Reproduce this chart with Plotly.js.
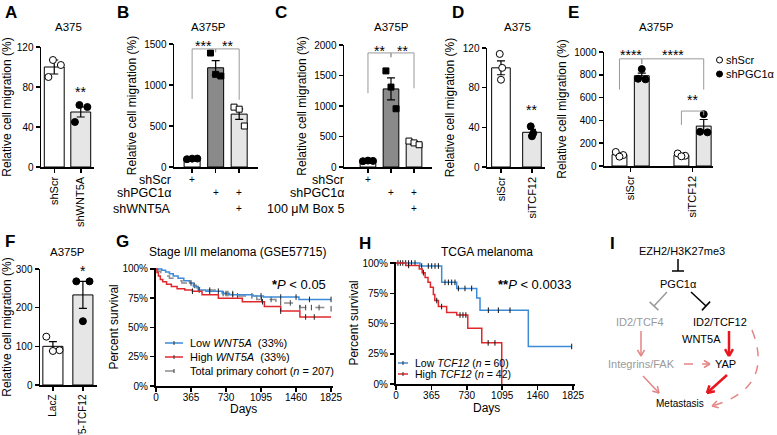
<!DOCTYPE html>
<html><head><meta charset="utf-8">
<script src="https://cdn.plot.ly/plotly-3.0.1.min.js"></script>
<style>body{margin:0;padding:0;background:#fff}#chart{width:777px;height:435px}</style>
</head><body><div id="chart"></div>
<script>
// ================= DATA =================
const A_cats = ['shScr', 'shWNT5A'];
const A_mean = [100, 55];
const A_se = [7, 5];
const A_pts = [[107, 102, 90], [62, 60, 45]];
const B_rows = ['shScr', 'shPGC1α', 'shWNT5A'];
const B_design = [['+', '', ''], ['', '+', '+'], ['', '', '+']];
const B_mean = [100, 1210, 645];
const B_se = [8, 88, 65];
const B_pts = [[95, 102, 103], [1390, 1130, 1110], [730, 705, 500]];
const B_sig = ['***', '**'];
const C_rows = ['shScr', 'shPGC1α', '100 μM Box 5'];
const C_design = [['+', '', ''], ['', '+', '+'], ['', '', '+']];
const C_mean = [100, 1280, 395];
const C_se = [10, 180, 25];
const C_pts = [[95, 105, 100], [1575, 1310, 955], [425, 395, 365]];
const C_sig = ['**', '**'];
const D_cats = ['siScr', 'siTCF12'];
const D_mean = [100, 35];
const D_se = [7, 3];
const D_pts = [[114, 100, 88], [41, 34, 31]];
const E_groups = ['siScr', 'siTCF12'];
const E_series = ['shScr', 'shPGC1α'];
const E_mean_shScr = [100, 95];
const E_mean_shPGC = [792, 350];
const E_se_shScr = [14, 9];
const E_se_shPGC = [22, 58];
const E_pts_shScr = [[123, 96, 82], [110, 90, 85]];
const E_pts_shPGC = [[850, 765, 760], [455, 300, 295]];
const E_sig = ['****', '****', '**'];
const F_cats = ['LacZ', 'V5-TCF12'];
const F_mean = [100, 233];
const F_se = [12, 35];
const F_pts = [[125, 90, 88], [268, 268, 165]];
const G_days_low = [0, 60, 100, 140, 180, 230, 290, 350, 390, 440, 520, 690, 760, 1010, 1120, 1490, 1825];
const G_surv_low = [100, 99, 97.5, 96, 94, 92, 90, 88, 85, 82, 81, 79, 78, 77, 76, 74, 74];
const G_cens_low = [365, 450, 560, 650, 730, 800, 1095, 1300, 1460, 1600, 1825];
const G_days_high = [0, 10, 25, 45, 70, 110, 160, 220, 300, 380, 480, 650, 900, 1130, 1300, 1500, 1825];
const G_surv_high = [100, 97, 94, 91, 89, 87, 85, 83, 82, 81, 78, 75, 72, 68, 64, 59, 59];
const G_cens_high = [380, 1110, 1300, 1560, 1650];
const G_days_total = [0, 20, 50, 90, 140, 200, 270, 350, 420, 520, 700, 850, 1050, 1250, 1500, 1825];
const G_surv_total = [100, 98, 96, 94, 92, 90, 88, 86, 84, 82, 79, 77, 74, 71, 67, 66];
const G_cens_total = [400, 560, 700, 750, 800, 850, 1000, 1100, 1200, 1300, 1400, 1500, 1560, 1620, 1700, 1825];
const G_names = ['Low <i>WNT5A</i>  (33%)', 'High <i>WNT5A</i>  (33%)', 'Total primary cohort (<i>n</i> = 207)'];
const H_days_low = [0, 247, 471, 626, 832, 866, 1364, 1811];
const H_surv_low = [100, 97.5, 84, 79, 71, 61, 31, 31];
const H_cens_low = [20, 45, 70, 100, 130, 160, 196, 265, 333, 368, 402, 437, 505, 540, 574, 608, 643, 711, 780, 952, 1055, 1175, 1811];
const H_days_high = [0, 100, 240, 270, 300, 330, 355, 385, 400, 437, 522, 626, 740, 884, 1090];
const H_surv_high = [100, 98, 95, 92, 88, 84, 80, 74, 69, 64, 59, 57, 46, 34, 0];
const H_cens_high = [130, 282, 420, 470, 660, 690, 720, 950, 1020];
const H_names = ['Low <i>TCF12</i> (<i>n</i> = 60)', 'High <i>TCF12</i> (<i>n</i> = 42)'];
const KM_ticks = [0, 365, 730, 1095, 1460, 1825];
const PCT_ticks = [0, 25, 50, 75, 100];

// ================= HELPERS =================
const W = 777, H = 435;
const FONT = '"Liberation Sans", Arial, Helvetica, sans-serif';
const px = x => x / W;
const py = y => 1 - y / H;
const WHITE = '#ffffff', LIGHT = '#e6e6e6', DARK = '#8a8a8a';
const BLUE = '#3d8ad6', RED = '#e0282c', GRAYL = '#8c8c8c';
const traces = [];
const L = {
  width: W, height: H, margin: {l: 0, r: 0, t: 0, b: 0},
  paper_bgcolor: '#fff', plot_bgcolor: 'rgba(0,0,0,0)',
  showlegend: false, barmode: 'overlay', hovermode: false,
  font: {family: FONT, size: 11, color: '#000'},
  shapes: [], annotations: []
};
const sfx = i => (i === 1 ? '' : String(i));
function axisBase(extra) {
  return Object.assign({
    showline: true, linecolor: '#000', linewidth: 1.5, ticks: 'outside', ticklen: 4,
    tickwidth: 1.5, tickcolor: '#000', showgrid: false, zeroline: false,
    automargin: false, tickfont: {size: 10, color: '#000'}
  }, extra);
}
function text(x, y, t, opt) {
  L.annotations.push(Object.assign({
    xref: 'paper', yref: 'paper', x: px(x), y: py(y), text: t, showarrow: false,
    xanchor: 'center', yanchor: 'middle', font: {size: 11, color: '#000'}
  }, opt || {}));
}
function pline(x0, y0, x1, y1, color, width, dash) {
  L.shapes.push({type: 'line', xref: 'paper', yref: 'paper', x0: px(x0), y0: py(y0), x1: px(x1), y1: py(y1),
    line: {color: color, width: width, dash: dash || 'solid'}});
}
function barPanel(i, xs, means, ses, colors, width, pts, symbols, fills, jit) {
  const xa = 'x' + sfx(i), ya = 'y' + sfx(i);
  traces.push({type: 'bar', x: xs, y: means, width: width, xaxis: xa, yaxis: ya,
    marker: {color: colors, line: {color: '#000', width: 1}},
    error_y: {type: 'data', array: ses, visible: true, color: '#000', thickness: 1.2, width: 4}});
  pts.forEach((vals, k) => {
    traces.push({type: 'scatter', mode: 'markers', xaxis: xa, yaxis: ya, cliponaxis: false,
      x: vals.map((v, j) => xs[k] + jit[j]), y: vals,
      marker: {symbol: symbols[k], size: symbols[k].indexOf('square') === 0 ? 6 : 7,
        color: fills[k], line: {color: '#000', width: 1}}});
  });
}
function star(i, x, y, label) {
  L.annotations.push({xref: 'x' + sfx(i), yref: 'y' + sfx(i), x: x, y: y, text: label, showarrow: false,
    yanchor: 'middle', font: {size: 14, color: '#000'}});
}
function bracket(i, x0, x1, yLine, yl0, yl1, label, yText) {
  const xa = 'x' + sfx(i), ya = 'y' + sfx(i);
  L.shapes.push({type: 'path', xref: xa, yref: ya,
    path: `M ${x0},${yl0} L ${x0},${yLine} L ${x1},${yLine} L ${x1},${yl1}`,
    line: {color: '#999', width: 1}});
  star(i, (x0 + x1) / 2, yText, label);
}
const YT = 'Relative cell migration (%)';
function yTitle(s) { return {text: s, font: {size: 12, color: '#000'}, standoff: 5}; }
const ROT = {tickangle: -90, tickfont: {size: 11, color: '#000'}};
const ROTF = {tickangle: -90, tickfont: {size: 10, color: '#000'}};

// ================= PANEL A =================
L.xaxis = axisBase(Object.assign({domain: [px(41), px(94)], range: [-0.5, 1.5], anchor: 'y', tickvals: [0, 1], ticktext: A_cats}, ROT));
L.yaxis = axisBase({domain: [py(167), py(47)], range: [0, 120], anchor: 'x', tickvals: [0, 40, 80, 120], title: yTitle(YT)});
barPanel(1, [0, 1], A_mean, A_se, [WHITE, LIGHT], 0.75, A_pts, ['circle', 'circle'], [WHITE, '#000'], [-0.05, 0.25, -0.22]);
star(1, 1, 75, '**');

// ================= PANEL B =================
L.xaxis2 = axisBase({domain: [px(174), px(258)], range: [-0.77, 2.8], anchor: 'y2', tickvals: [0, 1, 2], ticktext: ['', '', '']});
L.yaxis2 = axisBase({domain: [py(167), py(44)], range: [0, 1500], anchor: 'x2', tickvals: [0, 500, 1000, 1500], title: yTitle(YT)});
barPanel(2, [0, 1, 2], B_mean, B_se, [WHITE, DARK, LIGHT], 0.68, B_pts, ['circle', 'square', 'square'], ['#000', '#000', WHITE], [-0.22, 0, 0.22]);
bracket(2, 0, 1, 1440, 830, 1400, B_sig[0], 1475);
bracket(2, 1, 2, 1440, 1400, 820, B_sig[1], 1475);

// ================= PANEL C =================
L.xaxis3 = axisBase({domain: [px(344), px(432)], range: [-1.04, 2.78], anchor: 'y3', tickvals: [0, 1, 2], ticktext: ['', '', '']});
L.yaxis3 = axisBase({domain: [py(167), py(45)], range: [0, 2000], anchor: 'x3', tickvals: [0, 500, 1000, 1500, 2000], title: yTitle(YT)});
barPanel(3, [0, 1, 2], C_mean, C_se, [WHITE, DARK, LIGHT], 0.68, C_pts, ['circle', 'square', 'square'], ['#000', '#000', WHITE], [-0.22, 0, 0.22]);
bracket(3, 0, 1, 1870, 1210, 1800, C_sig[0], 1905);
bracket(3, 1, 2, 1870, 1800, 1290, C_sig[1], 1905);

[[2, B_rows, B_design, 173], [3, C_rows, C_design, 346]].forEach(([i, rows, design, lx]) => {
  rows.forEach((r, k) => {
    const yy = [180, 193, 209][k];
    text(lx, yy, r, {xanchor: 'right', font: {size: 12.5, color: '#000'}});
    design[k].forEach((m, b) => {
      if (m) L.annotations.push({xref: 'x' + sfx(i), yref: 'paper', x: b, y: py(yy), text: m, showarrow: false, font: {size: 10, color: '#000'}});
    });
  });
});

// ================= PANEL D =================
L.xaxis4 = axisBase(Object.assign({domain: [px(487), px(545)], range: [-0.45, 1.42], anchor: 'y4', tickvals: [0, 1], ticktext: D_cats}, ROT));
L.yaxis4 = axisBase({domain: [py(167), py(48)], range: [0, 120], anchor: 'x4', tickvals: [0, 40, 80, 120], title: yTitle(YT)});
barPanel(4, [0, 1], D_mean, D_se, [WHITE, LIGHT], 0.6, D_pts, ['circle', 'circle'], [WHITE, '#000'], [-0.04, 0.04, 0]);
star(4, 1, 57, '**');

// ================= PANEL E =================
const EOFF = 0.18;
L.xaxis5 = axisBase(Object.assign({domain: [px(604), px(713)], range: [-0.43, 1.33], anchor: 'y5', tickvals: [0, 1], ticktext: E_groups}, ROT));
L.yaxis5 = axisBase({domain: [py(166), py(52)], range: [0, 1000], anchor: 'x5', tickvals: [0, 200, 400, 600, 800, 1000], title: yTitle(YT)});
const Ex0 = E_groups.map((g, k) => k - EOFF), Ex1 = E_groups.map((g, k) => k + EOFF);
barPanel(5, Ex0, E_mean_shScr, E_se_shScr, [WHITE, WHITE], 0.24, E_pts_shScr, ['circle', 'circle'], [WHITE, WHITE], [-0.06, 0.06, 0]);
barPanel(5, Ex1, E_mean_shPGC, E_se_shPGC, [LIGHT, LIGHT], 0.24, E_pts_shPGC, ['circle', 'circle'], ['#000', '#000'], [0, -0.06, 0.06]);
bracket(5, Ex0[0], Ex1[0], 940, 670, 895, E_sig[0], 974);
bracket(5, Ex1[0], Ex1[1], 940, 895, 670, E_sig[1], 974);
bracket(5, Ex0[1], Ex1[1], 482, 360, 445, E_sig[2], 579);
L.shapes.push({type: 'circle', xref: 'paper', yref: 'paper', x0: px(716.5), x1: px(722.5), y0: py(63), y1: py(57), line: {color: '#000', width: 1}, fillcolor: '#fff'});
L.shapes.push({type: 'circle', xref: 'paper', yref: 'paper', x0: px(716.5), x1: px(722.5), y0: py(77), y1: py(71), line: {color: '#000', width: 1}, fillcolor: '#000'});
text(724, 60, E_series[0], {xanchor: 'left', font: {size: 11, color: '#000'}});
text(724, 74, E_series[1], {xanchor: 'left', font: {size: 11, color: '#000'}});

// ================= PANEL F =================
L.xaxis6 = axisBase(Object.assign({domain: [px(40), px(97)], range: [-0.43, 1.47], anchor: 'y6', tickvals: [0, 1], ticktext: F_cats}, ROTF));
L.yaxis6 = axisBase({domain: [py(385), py(269)], range: [0, 300], anchor: 'x6', tickvals: [0, 100, 200, 300], title: yTitle(YT)});
barPanel(6, [0, 1], F_mean, F_se, [WHITE, LIGHT], 0.67, F_pts, ['circle', 'circle'], [WHITE, '#000'], [-0.22, 0.22, 0]);
star(6, 1, 295, '*');

// ================= KM =================
function stepAt(days, surv, t) { let v = surv[0]; for (let k = 0; k < days.length; k++) if (days[k] <= t) v = surv[k]; return v; }
function kmCurve(i, days, surv, cens, color, dash, censColor) {
  const xa = 'x' + sfx(i), ya = 'y' + sfx(i);
  traces.push({type: 'scatter', mode: 'lines', x: days, y: surv, xaxis: xa, yaxis: ya,
    line: {shape: 'hv', color: color, width: 1.5, dash: dash || 'solid'}});
  traces.push({type: 'scatter', mode: 'markers', x: cens, y: cens.map(t => stepAt(days, surv, t)), xaxis: xa, yaxis: ya, cliponaxis: false,
    marker: {symbol: 'line-ns-open', size: 4, color: censColor, line: {color: censColor, width: 1}}});
}
function kmAxes(i, x0, x1, yb, yt) {
  L['xaxis' + sfx(i)] = axisBase({domain: [px(x0), px(x1)], range: [0, 1840], anchor: 'y' + sfx(i), tickvals: KM_ticks, linewidth: 2, tickwidth: 1.5, ticklabelstandoff: -3});
  L['yaxis' + sfx(i)] = axisBase({domain: [py(yb), py(yt)], range: [0, 101], anchor: 'x' + sfx(i), tickvals: PCT_ticks, ticktext: PCT_ticks.map(v => v + '%'), linewidth: 2, tickwidth: 1.5,
    title: {text: 'Percent survival', font: {size: 12, color: '#000'}, standoff: 1}});
}
function legendLine(x0, x1, y, color, dash, label, fs) {
  pline(x0, y, x1, y, color, 1.5, dash);
  pline((x0 + x1) / 2, y - 2, (x0 + x1) / 2, y + 2, '#333', 1);
  text(x1 + 5, y, label, {xanchor: 'left', font: {size: fs, color: '#000'}});
}

kmAxes(7, 156, 332.5, 386, 267.8);
kmCurve(7, G_days_total, G_surv_total, G_cens_total, GRAYL, 'dash', '#444');
kmCurve(7, G_days_low, G_surv_low, G_cens_low, BLUE, 'solid', '#222');
kmCurve(7, G_days_high, G_surv_high, G_cens_high, RED, 'solid', '#222');
legendLine(165, 183, 343, BLUE, 'solid', G_names[0], 11);
legendLine(165, 183, 357, RED, 'solid', G_names[1], 11);
legendLine(165, 183, 371, GRAYL, 'dash', G_names[2], 11);
text(328, 284, '<b>*</b><i>P</i> < 0.05', {xanchor: 'right', font: {size: 13, color: '#000'}});
text(237, 252, 'Stage I/II melanoma (GSE57715)', {font: {size: 12, color: '#000'}});
text(243, 409, 'Days', {font: {size: 12, color: '#000'}});

kmAxes(8, 396, 574.5, 384, 261.8);
kmCurve(8, H_days_low, H_surv_low, H_cens_low, BLUE, 'solid', '#111');
kmCurve(8, H_days_high, H_surv_high, H_cens_high, RED, 'solid', '#111');
legendLine(398, 408, 363, BLUE, 'solid', H_names[0], 10.5);
legendLine(398, 408, 374, RED, 'solid', H_names[1], 10.5);
text(573, 284, '<b>**</b><i>P</i> < 0.0033', {xanchor: 'right', font: {size: 13, color: '#000'}});
text(487, 252, 'TCGA melanoma', {font: {size: 12, color: '#000'}});
text(486, 408, 'Days', {font: {size: 12, color: '#000'}});

[['A375', 68, 27], ['A375P', 209, 27], ['A375P', 392, 27], ['A375', 517, 27], ['A375P', 656, 27], ['A375P', 67, 252]].forEach(t => text(t[1], t[2], t[0], {font: {size: 11.5, color: '#000'}}));
[['A', 11, 13], ['B', 123, 13], ['C', 281, 13], ['D', 458, 13], ['E', 573, 13], ['F', 10, 241], ['G', 122, 241], ['H', 365, 243], ['I', 612, 243]]
  .forEach(t => text(t[1], t[2], '<b>' + t[0] + '</b>', {font: {size: 17, color: '#000'}}));

// ================= PANEL I =================
const PINK = '#e38585', RED2 = '#e8161f', GR = '#9a9a9a';
function arrowHead(x0, y0, x1, y1, color, width, len) {
  const dxv = x1 - x0, dyv = y1 - y0, n = Math.hypot(dxv, dyv), ux = dxv / n, uy = dyv / n;
  const a = Math.PI / 6;
  [a, -a].forEach(s => {
    const rx = ux * Math.cos(s) - uy * Math.sin(s), ry = ux * Math.sin(s) + uy * Math.cos(s);
    pline(x1, y1, x1 - rx * len, y1 - ry * len, color, width);
  });
}
function arrow(x0, y0, x1, y1, color, width, dash, len) {
  pline(x0, y0, x1, y1, color, width, dash);
  arrowHead(x0, y0, x1, y1, color, width, len || 7);
}
function inhibit(x0, y0, x1, y1, color, width, half) {
  pline(x0, y0, x1, y1, color, width);
  const dxv = x1 - x0, dyv = y1 - y0, n = Math.hypot(dxv, dyv), qx = -dyv / n, qy = dxv / n;
  pline(x1 - qx * half, y1 - qy * half, x1 + qx * half, y1 + qy * half, color, width);
}
text(682, 251, 'EZH2/H3K27me3', {font: {size: 11, color: '#000'}});
text(678, 284, 'PGC1α', {font: {size: 11, color: '#000'}});
text(640, 322, 'ID2/TCF4', {font: {size: 11, color: GR}});
text(720, 322, 'ID2/TCF12', {font: {size: 11, color: '#000'}});
text(701, 339, 'WNT5A', {font: {size: 11, color: '#000'}});
text(641, 364, 'Integrins/FAK', {font: {size: 11, color: GR}});
text(725, 364, 'YAP', {font: {size: 11, color: '#000'}});
text(680, 403, 'Metastasis', {font: {size: 10, color: '#000'}});
inhibit(678, 259, 678, 271, '#000', 1.5, 6);
inhibit(667, 292, 654, 306, GR, 1.5, 6);
inhibit(691, 292, 706, 306, '#000', 1.5, 6);
arrow(641, 331, 641, 356, PINK, 1.5);
arrow(643, 376, 659, 393, PINK, 1.5);
arrow(684, 364, 710, 364, PINK, 1.5, 'dash');
arrow(729, 331, 729, 356, RED2, 2.5, 'solid', 8);
arrow(727, 375, 707, 393, RED2, 2.5, 'solid', 8);
L.shapes.push({type: 'path', xref: 'paper', yref: 'paper',
  path: `M ${px(752)},${py(330)} Q ${px(775)},${py(388)} ${px(712)},${py(406)}`,
  line: {color: PINK, width: 1.5, dash: 'dash'}});
arrowHead(730, 401, 712, 406, PINK, 1.5, 7);

Plotly.newPlot('chart', traces, L, {staticPlot: true, displayModeBar: false});
</script>
</body></html>
